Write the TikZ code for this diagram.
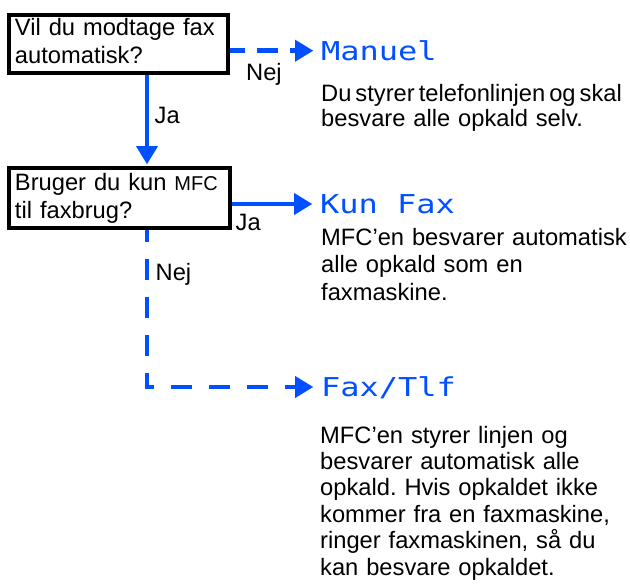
\documentclass[tikz,border=0pt]{standalone}
\usepackage{fontspec}
\setmainfont{Liberation Sans}
\newfontfamily\dotfont[FakeStretch=1.23]{DejaVu Sans Mono}
\usetikzlibrary{arrows.meta}
\definecolor{fxblue}{RGB}{0,80,255}
\frenchspacing
\tikzset{
  qbox/.style={draw=black, line width=4pt, rectangle, inner xsep=6pt, inner ysep=0pt,
    outer sep=0pt, text width=#1, align=left, font=\fontsize{23.7}{28}\selectfont,
    anchor=north west},
  lbl/.style={font=\fontsize{23.7}{28}\selectfont, inner sep=0pt, anchor=base west},
  ttl/.style={font=\dotfont\fontsize{26}{26}\selectfont, text=fxblue, inner ysep=0pt,
    inner xsep=8pt, outer sep=0pt, anchor=west, text height=19pt, text depth=0pt},
  desc/.style={font=\fontsize{23.7}{#1}\selectfont, inner sep=0pt, anchor=base west,
    align=left, text width=312pt},
  conn/.style={draw=fxblue, line width=4.5pt,
    -{Triangle[length=18pt,width=22pt,line width=0.1pt]}},
  dconnA/.style={conn, dash pattern=on 21pt off 12pt, dash phase=6pt},
  dconnB/.style={conn, dash pattern=on 21pt off 17pt, dash phase=9pt},
}
\begin{document}
\begin{tikzpicture}[x=1pt, y=-1pt]
\useasboundingbox (0,0) rectangle (630,584);
% question boxes
\node[qbox=207pt, text height=20pt, text depth=38pt] (q1) at (9,15)
  {Vil du modtage fax\\automatisk?};
\node[qbox=209pt, text height=22pt, text depth=38pt] (q2) at (9,168)
  {Bruger du kun {\fontsize{20}{28}\selectfont MFC}\\til faxbrug?};
% titles
\node[ttl] (t1) at (313,50.7) {Manuel};
\node[ttl] (t2) at (312,204) {Kun Fax};
\node[ttl] (t3) at (313,387) {Fax/Tlf};
% descriptions
\node[desc=25pt] (d1) at (321,101.7)
  {{\spaceskip=0.17em\relax Du styrer telefonlinjen og skal}\\besvare alle opkald selv.};
\node[desc=27.5pt] (d2) at (321,245)
  {MFC’en besvarer automatisk\\alle opkald som en\\faxmaskine.};
\node[desc=26.4pt] (d3) at (320,443)
  {MFC’en styrer linjen og\\besvarer automatisk alle\\opkald. Hvis opkaldet ikke\\kommer fra en faxmaskine,\\ringer faxmaskinen, så du\\kan besvare opkaldet.};
% connectors
\coordinate (c1) at (147,387);
\coordinate (a1) at (q1.east |- t1.west);
\coordinate (a2) at (c1 |- q1.south);
\coordinate (a3) at (c1 |- q2.north);
\coordinate (a4) at (q2.east |- t2.west);
\coordinate (a5) at (c1 |- q2.south);
\draw[dconnA] ([xshift=2pt]a1) -- (t1.west);
\draw[conn] ([yshift=-2pt]a2) -- ([yshift=4pt]a3);
\draw[conn] ([xshift=2pt]a4) -- (t2.west);
\draw[dconnB] ([yshift=-2pt]a5) -- (c1) -- (t3.west);
% labels
\node[lbl] (l1) at (246,80) {Nej};
\node[lbl] (l2) at (154.5,123) {Ja};
\node[lbl] (l3) at (235.5,230) {Ja};
\node[lbl] (l4) at (155.5,280) {Nej};
\end{tikzpicture}
\end{document}
